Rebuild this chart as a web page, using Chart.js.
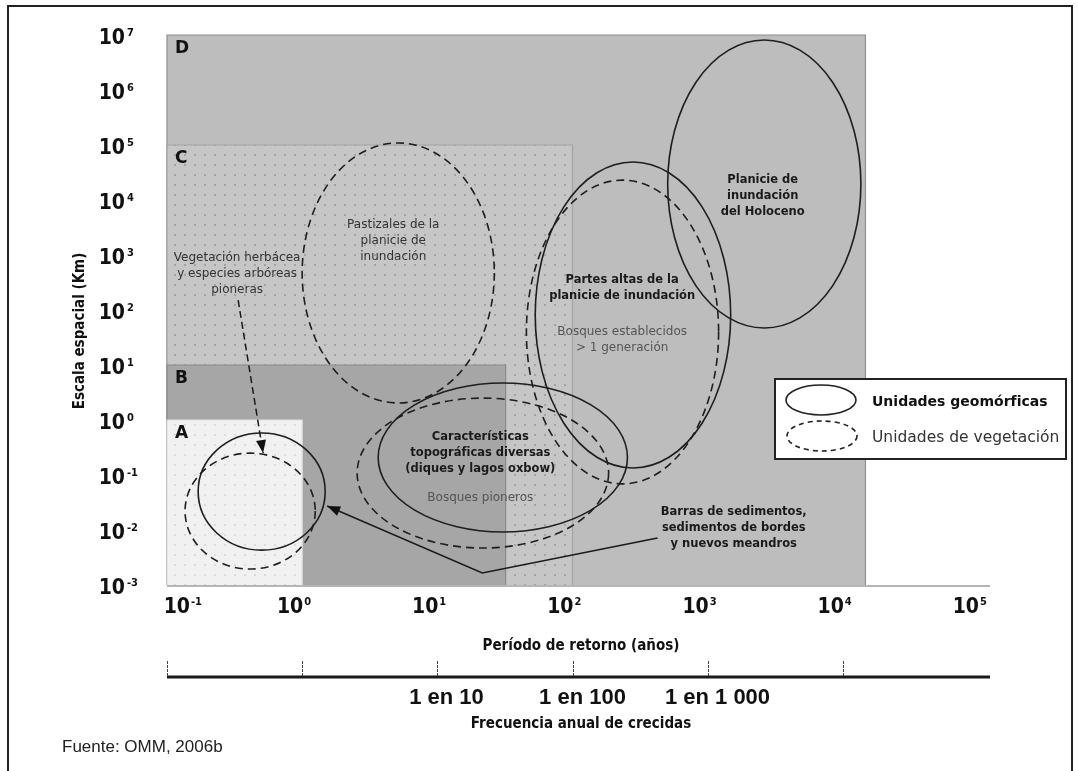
<!DOCTYPE html>
<html lang="es">
<head>
<meta charset="utf-8">
<title>Escala espacial y período de retorno</title>
<script src="https://cdn.jsdelivr.net/npm/chart.js@4.4.1/dist/chart.umd.min.js"></script>
<style>
  html, body { margin: 0; padding: 0; background: #fff; }
  #wrap { width: 1078px; height: 771px; }
</style>
</head>
<body>
<div id="wrap"><canvas id="grafico" width="1078" height="771"></canvas></div>
<script>
// Ejes (log-log)
const xTicks = [0.1, 1, 10, 100, 1000, 10000, 100000];
const xTickExp = ['-1', '0', '1', '2', '3', '4', '5'];
const yTicks = [1e-3, 1e-2, 1e-1, 1, 10, 100, 1e3, 1e4, 1e5, 1e6, 1e7];
const yTickExp = ['-3', '-2', '-1', '0', '1', '2', '3', '4', '5', '6', '7'];

// Eje inferior: frecuencia anual
const freqTicks = [0.1, 1, 10, 100, 1000, 10000];
const freqLabels = ['', '', '1 en 10', '1 en 100', '1 en 1 000', ''];

// Zonas A-D (todas empiezan en x = 0.1, y = 0.001)
const zonaNombres = ['D', 'C', 'B', 'A'];
const zonaXMax = [14700, 100, 32, 1];
const zonaYMax = [1e7, 1e5, 10, 1];

// Elipses: caja en unidades de datos
const elipseNombres = ['A geo', 'A veg', 'Pastizales', 'Caract. geo', 'Caract. veg', 'Partes altas geo', 'Partes altas veg', 'Holoceno'];
const elipseTipo = ['geo', 'veg', 'veg', 'geo', 'veg', 'geo', 'veg', 'geo'];
const elipseXMin = [0.17, 0.136, 1.0, 3.65, 2.55, 53, 45.6, 506];
const elipseXMax = [1.48, 1.25, 26.4, 255, 185, 1480, 1205, 13600];
const elipseYMin = [0.0043, 0.00195, 2.04, 0.0092, 0.0047, 0.134, 0.069, 47];
const elipseYMax = [0.58, 0.25, 1.09e5, 4.7, 2.5, 4.9e4, 2.3e4, 8.1e6];

// Flechas
const flechaVegX = [0.336, 0.514];
const flechaVegY = [151, 0.251];
const flechaBarX = [426, 21.5, 1.53];
const flechaBarY = [0.00716, 0.00165, 0.0273];

// Etiquetas (centro del bloque en unidades de datos)
const etiquetas = [
  { lineas: ['Vegetación herbácea', 'y especies arbóreas', 'pioneras'], x: 0.33, y: 451, bold: false, color: '#333' },
  { lineas: ['Pastizales de la', 'planicie de', 'inundación'], x: 4.72, y: 1797, bold: false, color: '#333' },
  { lineas: ['Partes altas de la', 'planicie de inundación'], x: 233, y: 251, bold: true, color: '#1a1a1a' },
  { lineas: ['Bosques establecidos', '> 1 generación'], x: 233, y: 29.1, bold: false, color: '#555' },
  { lineas: ['Planicie de', 'inundación', 'del Holoceno'], x: 2553, y: 11820, bold: true, color: '#1a1a1a' },
  { lineas: ['Características', 'topográficas diversas', '(diques y lagos oxbow)'], x: 20.8, y: 0.251, bold: true, color: '#1a1a1a' },
  { lineas: ['Bosques pioneros'], x: 20.8, y: 0.0382, bold: false, color: '#555' },
  { lineas: ['Barras de sedimentos,', 'sedimentos de bordes', 'y nuevos meandros'], x: 1560, y: 0.01087, bold: true, color: '#1a1a1a' }
];

const tickFont = '"Liberation Sans Narrow", "DejaVu Sans Condensed", sans-serif';
const labelFont = '"DejaVu Sans", sans-serif';

function patron(base, punto) {
  const c = document.createElement('canvas');
  c.width = 10; c.height = 10;
  const g = c.getContext('2d');
  g.fillStyle = base;
  g.fillRect(0, 0, 10, 10);
  g.fillStyle = punto;
  g.fillRect(4, 4, 2, 2);
  return c;
}

const zonaEstilo = {
  D: { fill: '#bdbdbd', borde: '#8e8e8e' },
  C: { pat: patron('#c6c6c6', '#a2a2a2'), borde: '#a3a3a3' },
  B: { fill: '#a6a6a6', borde: '#8a8a8a' },
  A: { pat: patron('#f1f1f1', '#dadada'), borde: '#e0e0e0' }
};

const fondoPlugin = {
  id: 'fondo',
  beforeDatasetsDraw(chart) {
    const { ctx, scales: { x, y } } = chart;
    ctx.save();
    // zonas
    zonaNombres.forEach((n, i) => {
      const x0 = x.getPixelForValue(0.1), x1 = x.getPixelForValue(zonaXMax[i]);
      const y0 = y.getPixelForValue(zonaYMax[i]), y1 = y.getPixelForValue(1e-3);
      const st = zonaEstilo[n];
      ctx.fillStyle = st.pat ? ctx.createPattern(st.pat, 'repeat') : st.fill;
      ctx.fillRect(x0, y0, x1 - x0, y1 - y0);
      ctx.strokeStyle = st.borde;
      ctx.lineWidth = 1.2;
      ctx.beginPath();
      ctx.moveTo(x0, y1); ctx.lineTo(x0, y0); ctx.lineTo(x1, y0); ctx.lineTo(x1, y1);
      ctx.stroke();
      ctx.fillStyle = '#111';
      ctx.font = 'bold 17px ' + labelFont;
      ctx.textAlign = 'left';
      ctx.textBaseline = 'middle';
      ctx.fillText(n, x0 + 8, y0 + 14);
    });
    // linea base
    ctx.strokeStyle = '#b5b5b5';
    ctx.lineWidth = 2;
    ctx.beginPath();
    ctx.moveTo(chart.chartArea.left, chart.chartArea.bottom + 1);
    ctx.lineTo(chart.chartArea.right + 12, chart.chartArea.bottom + 1);
    ctx.stroke();
    // elipses
    elipseNombres.forEach((n, i) => {
      const x0 = x.getPixelForValue(elipseXMin[i]), x1 = x.getPixelForValue(elipseXMax[i]);
      const y0 = y.getPixelForValue(elipseYMax[i]), y1 = y.getPixelForValue(elipseYMin[i]);
      ctx.strokeStyle = '#1e1e1e';
      ctx.lineWidth = 1.6;
      ctx.setLineDash(elipseTipo[i] === 'veg' ? [8, 5] : []);
      ctx.beginPath();
      ctx.ellipse((x0 + x1) / 2, (y0 + y1) / 2, (x1 - x0) / 2, (y1 - y0) / 2, 0, 0, Math.PI * 2);
      ctx.stroke();
    });
    ctx.restore();
  },
  afterDatasetsDraw(chart) {
    const { ctx, scales: { x, y } } = chart;
    ctx.save();
    // puntas de flecha
    chart.data.datasets.forEach(ds => {
      const n = ds.data.length;
      const p = ds.data[n - 1], q = ds.data[n - 2];
      const px = x.getPixelForValue(p.x), py = y.getPixelForValue(p.y);
      const qx = x.getPixelForValue(q.x), qy = y.getPixelForValue(q.y);
      const a = Math.atan2(py - qy, px - qx);
      ctx.fillStyle = '#111';
      ctx.beginPath();
      ctx.moveTo(px, py);
      ctx.lineTo(px - 13 * Math.cos(a) + 5 * Math.sin(a), py - 13 * Math.sin(a) - 5 * Math.cos(a));
      ctx.lineTo(px - 13 * Math.cos(a) - 5 * Math.sin(a), py - 13 * Math.sin(a) + 5 * Math.cos(a));
      ctx.closePath();
      ctx.fill();
    });
    // etiquetas
    ctx.textAlign = 'center';
    ctx.textBaseline = 'middle';
    etiquetas.forEach(e => {
      const cx = x.getPixelForValue(e.x), cy = y.getPixelForValue(e.y);
      ctx.font = (e.bold ? 'bold 11.5px ' : '12px ') + labelFont;
      ctx.fillStyle = e.color;
      const lh = 16;
      const top = cy - (e.lineas.length - 1) * lh / 2;
      e.lineas.forEach((l, k) => ctx.fillText(l, cx, top + k * lh));
    });
    ctx.restore();
  },
  afterDraw(chart) {
    const { ctx, scales: { x, y } } = chart;
    const area = chart.chartArea;
    ctx.save();
    ctx.fillStyle = '#111';
    // ticks eje y
    yTicks.forEach((v, i) => {
      const py = y.getPixelForValue(v);
      ctx.font = 'bold 21px ' + tickFont;
      ctx.textAlign = 'right';
      ctx.textBaseline = 'alphabetic';
      ctx.fillText('10', 125, py + 9);
      ctx.font = 'bold 11px ' + tickFont;
      ctx.textAlign = 'left';
      ctx.fillText(yTickExp[i], 127, py + 1);
    });
    // ticks eje x
    xTicks.forEach((v, i) => {
      const px = Math.max(x.getPixelForValue(v) + 1, area.left + 23);
      ctx.font = 'bold 21px ' + tickFont;
      ctx.textAlign = 'right';
      ctx.textBaseline = 'alphabetic';
      ctx.fillText('10', px, 613);
      ctx.font = 'bold 11px ' + tickFont;
      ctx.textAlign = 'left';
      ctx.fillText(xTickExp[i], px + 1, 605);
    });
    // titulos de ejes
    ctx.font = 'bold 15px "DejaVu Sans Condensed", sans-serif';
    ctx.textAlign = 'center';
    ctx.textBaseline = 'middle';
    ctx.fillText('Período de retorno (años)', 581, 646);
    ctx.fillText('Frecuencia anual de crecidas', 581, 724);
    ctx.save();
    ctx.translate(80, 331);
    ctx.rotate(-Math.PI / 2);
    ctx.fillText('Escala espacial (Km)', 0, 0);
    ctx.restore();
    // eje de frecuencia
    ctx.strokeStyle = '#1a1a1a';
    ctx.lineWidth = 3;
    ctx.beginPath();
    ctx.moveTo(area.left, 677);
    ctx.lineTo(990, 677);
    ctx.stroke();
    ctx.lineWidth = 1;
    ctx.strokeStyle = '#444';
    ctx.setLineDash([3, 1]);
    ctx.font = 'bold 22px "Liberation Sans", sans-serif';
    freqTicks.forEach((v, i) => {
      const px = Math.round(x.getPixelForValue(v)) + 0.5;
      ctx.beginPath();
      ctx.moveTo(px, 661);
      ctx.lineTo(px, 676);
      ctx.stroke();
      if (freqLabels[i]) ctx.fillText(freqLabels[i], px + 9, 698);
    });
    ctx.setLineDash([]);
    // leyenda
    ctx.fillStyle = '#fff';
    ctx.fillRect(775, 379, 291, 80);
    ctx.strokeStyle = '#222';
    ctx.lineWidth = 2;
    ctx.strokeRect(775, 379, 291, 80);
    ctx.lineWidth = 1.6;
    ctx.beginPath();
    ctx.ellipse(821, 400, 35, 15, 0, 0, Math.PI * 2);
    ctx.stroke();
    ctx.setLineDash([5, 4]);
    ctx.beginPath();
    ctx.ellipse(822, 436, 35, 15, 0, 0, Math.PI * 2);
    ctx.stroke();
    ctx.setLineDash([]);
    ctx.fillStyle = '#111';
    ctx.textAlign = 'left';
    ctx.font = 'bold 14px ' + labelFont;
    ctx.fillText('Unidades geomórficas', 872, 402);
    ctx.fillStyle = '#333';
    ctx.font = '15.5px ' + labelFont;
    ctx.fillText('Unidades de vegetación', 872, 438);
    // fuente y marco
    ctx.fillStyle = '#222';
    ctx.font = '17px "Liberation Sans", sans-serif';
    ctx.fillText('Fuente: OMM, 2006b', 62, 747);
    ctx.strokeStyle = '#222';
    ctx.lineWidth = 2;
    ctx.strokeRect(8, 6, 1064, 790);
    ctx.restore();
  }
};

const ctx = document.getElementById('grafico').getContext('2d');

const data = {
  datasets: [
    {
      label: 'Vegetación herbácea',
      data: flechaVegX.map((v, i) => ({ x: v, y: flechaVegY[i] })),
      showLine: true,
      borderColor: '#1a1a1a',
      borderWidth: 1.5,
      borderDash: [7, 4],
      pointRadius: 0
    },
    {
      label: 'Barras de sedimentos',
      data: flechaBarX.map((v, i) => ({ x: v, y: flechaBarY[i] })),
      showLine: true,
      borderColor: '#1a1a1a',
      borderWidth: 1.5,
      pointRadius: 0
    }
  ]
};

new Chart(ctx, {
  type: 'scatter',
  data: data,
  options: {
    responsive: false,
    animation: false,
    layout: { padding: { left: 167, right: 100, top: 35, bottom: 186 } },
    scales: {
      x: { type: 'logarithmic', min: 0.1, max: 100000, display: false },
      y: { type: 'logarithmic', min: 0.001, max: 10000000, display: false }
    },
    plugins: {
      legend: { display: false },
      tooltip: { enabled: false }
    }
  },
  plugins: [fondoPlugin]
});
</script>
</body>
</html>
